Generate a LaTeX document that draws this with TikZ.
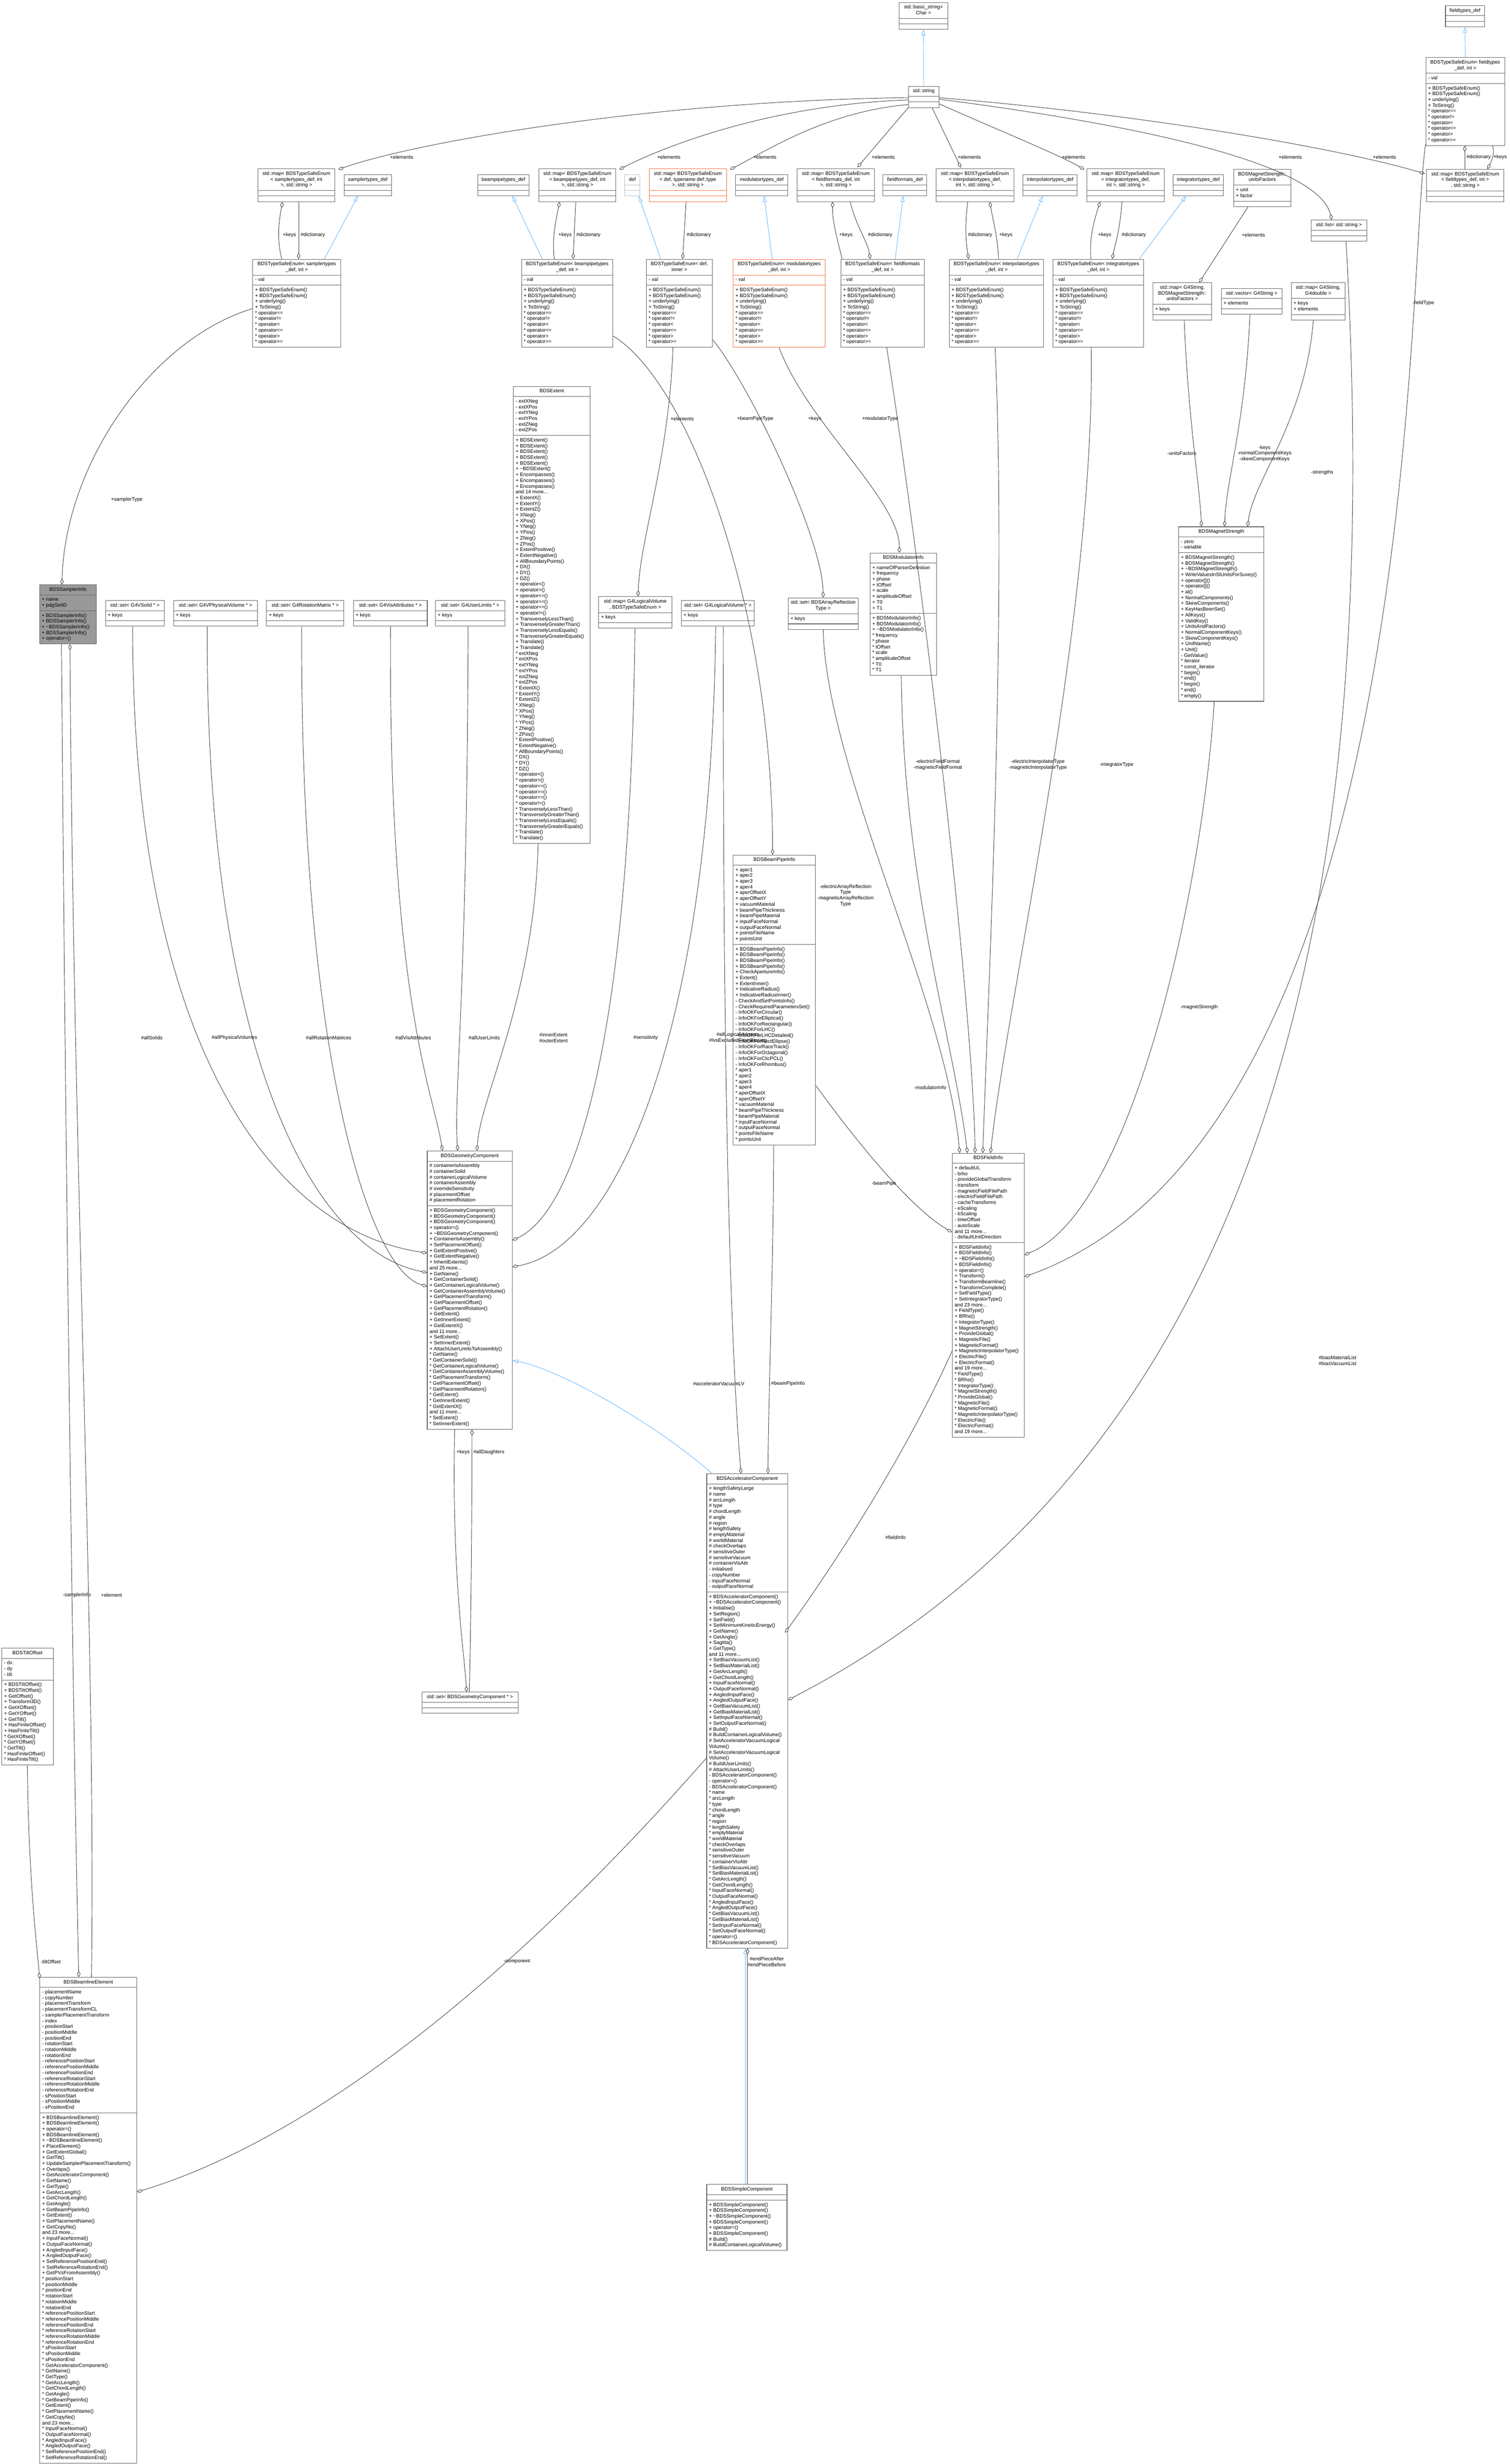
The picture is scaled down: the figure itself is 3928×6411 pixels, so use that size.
\documentclass[tikz,border=0pt]{standalone}
\usepackage{fontspec}
\setmainfont{Liberation Sans}
\usetikzlibrary{shapes.multipart,arrows.meta,calc}
\definecolor{boxline}{HTML}{666666}
\definecolor{edgegray}{HTML}{404040}
\definecolor{inhblue}{HTML}{63B8FF}
\definecolor{hotorange}{HTML}{FF6E46}
\definecolor{undocgray}{HTML}{BFBFBF}
\definecolor{curfill}{HTML}{999999}
\newcommand\hd[1]{\begin{tabular}{@{}c@{}}#1\end{tabular}}
\newcommand\ls[1]{\begin{tabular}{@{}l@{}}#1\end{tabular}}
\newcommand\cls[8][]{\node[cls,minimum width=#5pt,#1] (#2) at (#3,#4) {\hd{#6}\nodepart{two}\ls{#7}\nodepart{three}\ls{#8}};}
\newcommand\enummeth{+ BDSTypeSafeEnum()\\+ BDSTypeSafeEnum()\\+ underlying()\\+ ToString()\\{}* operator==\\{}* operator!=\\{}* operator<\\{}* operator<=\\{}* operator>\\{}* operator>=}
\tikzset{
 cls/.style={rectangle split, rectangle split parts=3, rectangle split part align={center,left,left}, draw=boxline, line width=1.3pt, fill=white, anchor=north west, inner xsep=6pt, inner ysep=5pt, font=\fontsize{13}{15}\selectfont},
 hot/.style={draw=hotorange},
 cur/.style={fill=curfill},
 undoc/.style={draw=undocgray},
 agg/.style={draw=edgegray, line width=1.2pt, -{Diamond[fill=white,length=16pt,width=9pt]}},
 inh/.style={draw=inhblue, line width=1.2pt, -{Triangle[fill=white,length=15pt,width=10pt]}},
 lbl/.style={font=\fontsize{13}{15}\selectfont, inner sep=0pt, align=center},
}
\begin{document}
\begin{tikzpicture}[x=1pt,y=-1pt]
\useasboundingbox (0,0) rectangle (3928,6411);
\fill[white] (0,0) rectangle (3928,6411);
% ---------- top rows
\cls{bstr}{2339}{6}{126}{std::basic\_string<\\Char >}{}{}
\cls{str}{2363}{224}{79}{std::string}{}{}
\cls{ftdef}{3760}{14}{102}{fieldtypes\_def}{}{}
\cls{eft}{3709}{149}{205}{BDSTypeSafeEnum< fieldtypes\\\_def, int >}{- val}{\enummeth}
\cls{msamp}{670}{439}{201}{std::map< BDSTypeSafeEnum\\< samplertypes\_def, int\\>, std::string >}{}{}
\cls{mbp}{1401}{439}{201}{std::map< BDSTypeSafeEnum\\< beampipetypes\_def, int\\>, std::string >}{}{}
\cls[hot]{mdef}{1688}{439}{202}{std::map< BDSTypeSafeEnum\\< def, typename def::type\\>, std::string >}{}{}
\cls{mff}{2073}{439}{202}{std::map< BDSTypeSafeEnum\\< fieldformats\_def, int\\>, std::string >}{}{}
\cls{mip}{2435}{439}{202}{std::map< BDSTypeSafeEnum\\< interpolatortypes\_def,\\int >, std::string >}{}{}
\cls{mit}{2827}{439}{202}{std::map< BDSTypeSafeEnum\\< integratortypes\_def,\\int >, std::string >}{}{}
\cls{mft}{3711}{440}{201}{std::map< BDSTypeSafeEnum\\< fieldtypes\_def, int >\\, std::string >}{}{}
\cls{sdef}{895}{454}{123}{samplertypes\_def}{}{}
\cls{bdef}{1242}{454}{134}{beampipetypes\_def}{}{}
\cls[undoc]{ddef}{1625}{454}{39}{def}{}{}
\cls{mddef}{1913}{454}{136}{modulatortypes\_def}{}{}
\cls{ffdef}{2297}{454}{114}{fieldformats\_def}{}{}
\cls{ipdef}{2661}{454}{141}{interpolatortypes\_def}{}{}
\cls{itdef}{3051}{454}{132}{integratortypes\_def}{}{}
\cls{uf}{3209}{440}{149}{BDSMagnetStrength::\\unitsFactors}{+ unit\\+ factor}{}
\cls{lst}{3410}{572}{146}{std::list< std::string >}{}{}
\cls{esamp}{657}{674}{229}{BDSTypeSafeEnum< samplertypes\\\_def, int >}{- val}{\enummeth}
\cls{ebp}{1356}{674}{238}{BDSTypeSafeEnum< beampipetypes\\\_def, int >}{- val}{\enummeth}
\cls{edef}{1681}{674}{172}{BDSTypeSafeEnum< def,\\inner >}{- val}{\enummeth}
\cls[hot]{emod}{1907}{674}{239}{BDSTypeSafeEnum< modulatortypes\\\_def, int >}{- val}{\enummeth}
\cls{eff}{2187}{674}{217}{BDSTypeSafeEnum< fieldformats\\\_def, int >}{- val}{\enummeth}
\cls{eip}{2469}{674}{246}{BDSTypeSafeEnum< interpolatortypes\\\_def, int >}{- val}{\enummeth}
\cls{eit}{2739}{674}{236}{BDSTypeSafeEnum< integratortypes\\\_def, int >}{- val}{\enummeth}
\cls{mgu}{2999}{735}{153}{std::map< G4String,\\BDSMagnetStrength::\\unitsFactors >}{+ keys}{}
\cls{vg}{3177}{750}{158}{std::vector< G4String >}{+ elements}{}
\cls{mgd}{3359}{735}{140}{std::map< G4String,\\G4double >}{+ keys\\+ elements}{}
% ---------- middle rank
\cls[cur]{samp}{102}{1521}{148}{BDSSamplerInfo}{+ name\\+ pdgSetID}{+ BDSSamplerInfo()\\+ BDSSamplerInfo()\\+ \textasciitilde BDSSamplerInfo()\\+ BDSSamplerInfo()\\+ operator=()}
\cls{sSolid}{274}{1562}{153}{std::set< G4VSolid * >}{+ keys}{}
\cls{sPV}{451}{1562}{218}{std::set< G4VPhysicalVolume * >}{+ keys}{}
\cls{sRot}{693}{1562}{201}{std::set< G4RotationMatrix * >}{+ keys}{}
\cls{sVis}{919}{1562}{192}{std::set< G4VisAttributes * >}{+ keys}{}
\cls{sUL}{1132}{1562}{181}{std::set< G4UserLimits * >}{+ keys}{}
\cls{ext}{1335}{1005}{200}{BDSExtent}{- extXNeg\\- extXPos\\- extYNeg\\- extYPos\\- extZNeg\\- extZPos}{+ BDSExtent()\\+ BDSExtent()\\+ BDSExtent()\\+ BDSExtent()\\+ BDSExtent()\\+ \textasciitilde BDSExtent()\\+ Encompasses()\\+ Encompasses()\\+ Encompasses()\\and 14 more...\\+ ExtentX()\\+ ExtentY()\\+ ExtentZ()\\+ XNeg()\\+ XPos()\\+ YNeg()\\+ YPos()\\+ ZNeg()\\+ ZPos()\\+ ExtentPositive()\\+ ExtentNegative()\\+ AllBoundaryPoints()\\+ DX()\\+ DY()\\+ DZ()\\+ operator<()\\+ operator>()\\+ operator<=()\\+ operator>=()\\+ operator==()\\+ operator!=()\\+ TransverselyLessThan()\\+ TransverselyGreaterThan()\\+ TransverselyLessEquals()\\+ TransverselyGreaterEquals()\\+ Translate()\\+ Translate()\\{}* extXNeg\\{}* extXPos\\{}* extYNeg\\{}* extYPos\\{}* extZNeg\\{}* extZPos\\{}* ExtentX()\\{}* ExtentY()\\{}* ExtentZ()\\{}* XNeg()\\{}* XPos()\\{}* YNeg()\\{}* YPos()\\{}* ZNeg()\\{}* ZPos()\\{}* ExtentPositive()\\{}* ExtentNegative()\\{}* AllBoundaryPoints()\\{}* DX()\\{}* DY()\\{}* DZ()\\{}* operator<()\\{}* operator>()\\{}* operator<=()\\{}* operator>=()\\{}* operator==()\\{}* operator!=()\\{}* TransverselyLessThan()\\{}* TransverselyGreaterThan()\\{}* TransverselyLessEquals()\\{}* TransverselyGreaterEquals()\\{}* Translate()\\{}* Translate()}
\cls{mlv}{1557}{1552}{190}{std::map< G4LogicalVolume\\*, BDSTypeSafeEnum >}{+ keys}{}
\cls{slv}{1772}{1562}{190}{std::set< G4LogicalVolume * >}{+ keys}{}
\cls{sar}{2050}{1555}{182}{std::set< BDSArrayReflection\\Type >}{+ keys}{}
\cls{mod}{2263}{1438}{173}{BDSModulatorInfo}{+ nameOfParserDefinition\\+ frequency\\+ phase\\+ tOffset\\+ scale\\+ amplitudeOffset\\+ T0\\+ T1}{+ BDSModulatorInfo()\\+ BDSModulatorInfo()\\+ \textasciitilde BDSModulatorInfo()\\{}* frequency\\{}* phase\\{}* tOffset\\{}* scale\\{}* amplitudeOffset\\{}* T0\\{}* T1}
\cls{mag}{3066}{1370}{222}{BDSMagnetStrength}{- zero\\- variable}{+ BDSMagnetStrength()\\+ BDSMagnetStrength()\\+ \textasciitilde BDSMagnetStrength()\\+ WriteValuesInSIUnitsForSuvey()\\+ operator[]()\\+ operator[]()\\+ at()\\+ NormalComponents()\\+ SkewComponents()\\+ KeyHasBeenSet()\\+ AllKeys()\\+ ValidKey()\\+ UnitsAndFactors()\\+ NormalComponentKeys()\\+ SkewComponentKeys()\\+ UnitName()\\+ Unit()\\- GetValue()\\{}* iterator\\{}* const\_iterator\\{}* begin()\\{}* end()\\{}* begin()\\{}* end()\\{}* empty()}
% ---------- lower
\cls{bpi}{1907}{2224}{214}{BDSBeamPipeInfo}{+ aper1\\+ aper2\\+ aper3\\+ aper4\\+ aperOffsetX\\+ aperOffsetY\\+ vacuumMaterial\\+ beamPipeThickness\\+ beamPipeMaterial\\+ inputFaceNormal\\+ outputFaceNormal\\+ pointsFileName\\+ pointsUnit}{+ BDSBeamPipeInfo()\\+ BDSBeamPipeInfo()\\+ BDSBeamPipeInfo()\\+ BDSBeamPipeInfo()\\+ CheckApertureInfo()\\+ Extent()\\+ ExtentInner()\\+ IndicativeRadius()\\+ IndicativeRadiusInner()\\- CheckAndSetPointsInfo()\\- CheckRequiredParametersSet()\\- InfoOKForCircular()\\- InfoOKForElliptical()\\- InfoOKForRectangular()\\- InfoOKForLHC()\\- InfoOKForLHCDetailed()\\- InfoOKForRectEllipse()\\- InfoOKForRaceTrack()\\- InfoOKForOctagonal()\\- InfoOKForClicPCL()\\- InfoOKForRhombus()\\{}* aper1\\{}* aper2\\{}* aper3\\{}* aper4\\{}* aperOffsetX\\{}* aperOffsetY\\{}* vacuumMaterial\\{}* beamPipeThickness\\{}* beamPipeMaterial\\{}* inputFaceNormal\\{}* outputFaceNormal\\{}* pointsFileName\\{}* pointsUnit}
\cls{geo}{1111}{2994}{221}{BDSGeometryComponent}{\# containerIsAssembly\\\# containerSolid\\\# containerLogicalVolume\\\# containerAssembly\\\# overrideSensitivity\\\# placementOffset\\\# placementRotation}{+ BDSGeometryComponent()\\+ BDSGeometryComponent()\\+ BDSGeometryComponent()\\+ operator=()\\+ \textasciitilde BDSGeometryComponent()\\+ ContainerIsAssembly()\\+ SetPlacementOffset()\\+ GetExtentPositive()\\+ GetExtentNegative()\\+ InheritExtents()\\and 25 more...\\+ GetName()\\+ GetContainerSolid()\\+ GetContainerLogicalVolume()\\+ GetContainerAssemblyVolume()\\+ GetPlacementTransform()\\+ GetPlacementOffset()\\+ GetPlacementRotation()\\+ GetExtent()\\+ GetInnerExtent()\\+ GetExtentX()\\and 11 more...\\+ SetExtent()\\+ SetInnerExtent()\\+ AttachUserLimitsToAssembly()\\{}* GetName()\\{}* GetContainerSolid()\\{}* GetContainerLogicalVolume()\\{}* GetContainerAssemblyVolume()\\{}* GetPlacementTransform()\\{}* GetPlacementOffset()\\{}* GetPlacementRotation()\\{}* GetExtent()\\{}* GetInnerExtent()\\{}* GetExtentX()\\and 11 more...\\{}* SetExtent()\\{}* SetInnerExtent()}
\cls{fi}{2477}{3000}{187}{BDSFieldInfo}{+ defaultUL\\- brho\\- provideGlobalTransform\\- transform\\- magneticFieldFilePath\\- electricFieldFilePath\\- cacheTransforms\\- eScaling\\- bScaling\\- timeOffset\\- autoScale\\and 11 more...\\- defaultUnitDirection}{+ BDSFieldInfo()\\+ BDSFieldInfo()\\+ \textasciitilde BDSFieldInfo()\\+ BDSFieldInfo()\\+ operator=()\\+ Transform()\\+ TransformBeamline()\\+ TransformComplete()\\+ SetFieldType()\\+ SetIntegratorType()\\and 23 more...\\+ FieldType()\\+ BRho()\\+ IntegratorType()\\+ MagnetStrength()\\+ ProvideGlobal()\\+ MagneticFile()\\+ MagneticFormat()\\+ MagneticInterpolatorType()\\+ ElectricFile()\\+ ElectricFormat()\\and 19 more...\\{}* FieldType()\\{}* BRho()\\{}* IntegratorType()\\{}* MagnetStrength()\\{}* ProvideGlobal()\\{}* MagneticFile()\\{}* MagneticFormat()\\{}* MagneticInterpolatorType()\\{}* ElectricFile()\\{}* ElectricFormat()\\and 19 more...}
\cls{ac}{1838}{3834}{211}{BDSAcceleratorComponent}{+ lengthSafetyLarge\\\# name\\\# arcLength\\\# type\\\# chordLength\\\# angle\\\# region\\\# lengthSafety\\\# emptyMaterial\\\# worldMaterial\\\# checkOverlaps\\\# sensitiveOuter\\\# sensitiveVacuum\\\# containerVisAttr\\- initialised\\- copyNumber\\- inputFaceNormal\\- outputFaceNormal}{+ BDSAcceleratorComponent()\\+ \textasciitilde BDSAcceleratorComponent()\\+ Initialise()\\+ SetRegion()\\+ SetField()\\+ SetMinimumKineticEnergy()\\+ GetName()\\+ GetAngle()\\+ Sagitta()\\+ GetType()\\and 11 more...\\+ SetBiasVacuumList()\\+ SetBiasMaterialList()\\+ GetArcLength()\\+ GetChordLength()\\+ InputFaceNormal()\\+ OutputFaceNormal()\\+ AngledInputFace()\\+ AngledOutputFace()\\+ GetBiasVacuumList()\\+ GetBiasMaterialList()\\+ SetInputFaceNormal()\\+ SetOutputFaceNormal()\\\# Build()\\\# BuildContainerLogicalVolume()\\\# SetAcceleratorVacuumLogical\\Volume()\\\# SetAcceleratorVacuumLogical\\Volume()\\\# BuildUserLimits()\\\# AttachUserLimits()\\- BDSAcceleratorComponent()\\- operator=()\\- BDSAcceleratorComponent()\\{}* name\\{}* arcLength\\{}* type\\{}* chordLength\\{}* angle\\{}* region\\{}* lengthSafety\\{}* emptyMaterial\\{}* worldMaterial\\{}* checkOverlaps\\{}* sensitiveOuter\\{}* sensitiveVacuum\\{}* containerVisAttr\\{}* SetBiasVacuumList()\\{}* SetBiasMaterialList()\\{}* GetArcLength()\\{}* GetChordLength()\\{}* InputFaceNormal()\\{}* OutputFaceNormal()\\{}* AngledInputFace()\\{}* AngledOutputFace()\\{}* GetBiasVacuumList()\\{}* GetBiasMaterialList()\\{}* SetInputFaceNormal()\\{}* SetOutputFaceNormal()\\{}* operator=()\\{}* BDSAcceleratorComponent()}
\cls{sgc}{1097}{4402}{250}{std::set< BDSGeometryComponent * >}{}{}
\cls{tilt}{4}{4288}{134}{BDSTiltOffset}{- dx\\- dy\\- tilt}{+ BDSTiltOffset()\\+ BDSTiltOffset()\\+ GetOffset()\\+ Transform3D()\\+ GetXOffset()\\+ GetYOffset()\\+ GetTilt()\\+ HasFiniteOffset()\\+ HasFiniteTilt()\\{}* GetXOffset()\\{}* GetYOffset()\\{}* GetTilt()\\{}* HasFiniteOffset()\\{}* HasFiniteTilt()}
\cls{be}{103}{5144}{252}{BDSBeamlineElement}{- placementName\\- copyNumber\\- placementTransform\\- placementTransformCL\\- samplerPlacementTransform\\- index\\- positionStart\\- positionMiddle\\- positionEnd\\- rotationStart\\- rotationMiddle\\- rotationEnd\\- referencePositionStart\\- referencePositionMiddle\\- referencePositionEnd\\- referenceRotationStart\\- referenceRotationMiddle\\- referenceRotationEnd\\- sPositionStart\\- sPositionMiddle\\- sPositionEnd}{+ BDSBeamlineElement()\\+ BDSBeamlineElement()\\+ operator=()\\+ BDSBeamlineElement()\\+ \textasciitilde BDSBeamlineElement()\\+ PlaceElement()\\+ GetExtentGlobal()\\+ GetTilt()\\+ UpdateSamplerPlacementTransform()\\+ Overlaps()\\+ GetAcceleratorComponent()\\+ GetName()\\+ GetType()\\+ GetArcLength()\\+ GetChordLength()\\+ GetAngle()\\+ GetBeamPipeInfo()\\+ GetExtent()\\+ GetPlacementName()\\+ GetCopyNo()\\and 23 more...\\+ InputFaceNormal()\\+ OutputFaceNormal()\\+ AngledInputFace()\\+ AngledOutputFace()\\+ SetReferencePositionEnd()\\+ SetReferenceRotationEnd()\\+ GetPVsFromAssembly()\\{}* positionStart\\{}* positionMiddle\\{}* positionEnd\\{}* rotationStart\\{}* rotationMiddle\\{}* rotationEnd\\{}* referencePositionStart\\{}* referencePositionMiddle\\{}* referencePositionEnd\\{}* referenceRotationStart\\{}* referenceRotationMiddle\\{}* referenceRotationEnd\\{}* sPositionStart\\{}* sPositionMiddle\\{}* sPositionEnd\\{}* GetAcceleratorComponent()\\{}* GetName()\\{}* GetType()\\{}* GetArcLength()\\{}* GetChordLength()\\{}* GetAngle()\\{}* GetBeamPipeInfo()\\{}* GetExtent()\\{}* GetPlacementName()\\{}* GetCopyNo()\\and 23 more...\\{}* InputFaceNormal()\\{}* OutputFaceNormal()\\{}* AngledInputFace()\\{}* AngledOutputFace()\\{}* SetReferencePositionEnd()\\{}* SetReferenceRotationEnd()}
\cls{simple}{1838}{5683}{209}{BDSSimpleComponent}{}{+ BDSSimpleComponent()\\+ BDSSimpleComponent()\\+ \textasciitilde BDSSimpleComponent()\\+ BDSSimpleComponent()\\+ operator=()\\+ BDSSimpleComponent()\\\# Build()\\\# BuildContainerLogicalVolume()}
% ================= edges
\draw[inh] (str.north) -- (bstr.south);
\draw[inh] (eft.north) -- (ftdef.south);
% std::string -> maps
\draw[agg] ($(str.west)+(0,2)$) .. controls (1700,262) and (1080,370) .. ($(msamp.north east)+(8,2)$);
\node[lbl] at (1045,409) {+elements};
\draw[agg] ($(str.west)+(0,8)$) .. controls (2000,272) and (1720,385) .. ($(mbp.north east)+(8,2)$);
\node[lbl] at (1740,409) {+elements};
\draw[agg] ($(str.west)+(0,20)$) .. controls (2150,290) and (1990,395) .. ($(mdef.north east)+(8,2)$);
\node[lbl] at (1990,409) {+elements};
\draw[agg] (str.south west) -- ($(mff.north west)+(158,-4)$);
\node[lbl] at (2298,409) {+elements};
\draw[agg] ($(str.south west)+(62,0)$) -- ($(mip.north west)+(65,-3)$);
\node[lbl] at (2522,409) {+elements};
\draw[agg] ($(str.east)+(0,18)$) .. controls (2600,340) and (2750,400) .. ($(mit.north west)+(-6,2)$);
\node[lbl] at (2793,409) {+elements};
\draw[agg] ($(str.east)+(0,6)$) .. controls (3000,330) and (3430,430) .. ($(lst.north west)+(55,0)$);
\node[lbl] at (3357,409) {+elements};
\draw[agg] ($(str.east)+(0,2)$) .. controls (3000,300) and (3500,390) .. ($(mft.north west)+(-4,12)$);
\node[lbl] at (3602,409) {+elements};
% fieldtypes pair
\draw[agg] ($(eft.south west)+(174,0)$) .. controls (3890,400) and (3880,420) .. ($(mft.north west)+(159,0)$);
\node[lbl] at (3903,409) {+keys};
\draw[agg] ($(mft.north west)+(100,0)$) -- ($(eft.south west)+(102,0)$);
\node[lbl] at (3847,409) {\#dictionary};
% enum <-> map pairs
\draw[agg] ($(esamp.north west)+(76,0)$) .. controls (720,620) and (725,580) .. ($(msamp.south west)+(65,0)$);
\node[lbl] at (753,612) {+keys};
\draw[agg] ($(msamp.south west)+(107,0)$) -- ($(esamp.north west)+(120,0)$);
\node[lbl] at (814,612) {\#dictionary};
\draw[agg] ($(ebp.north west)+(86,0)$) .. controls (1436,620) and (1445,580) .. ($(mbp.south west)+(55,0)$);
\node[lbl] at (1470,612) {+keys};
\draw[agg] ($(mbp.south west)+(97,0)$) -- ($(ebp.north west)+(135,0)$);
\node[lbl] at (1531,612) {\#dictionary};
\draw[agg] ($(mdef.south west)+(97,0)$) -- ($(edef.north west)+(95,0)$);
\node[lbl] at (1818,612) {\#dictionary};
\draw[agg] ($(eff.north west)+(4,0)$) .. controls (2178,620) and (2166,580) .. ($(mff.south west)+(93,0)$);
\node[lbl] at (2201,612) {+keys};
\draw[agg] ($(mff.south west)+(139,0)$) .. controls (2228,590) and (2258,630) .. ($(eff.north west)+(77,0)$);
\node[lbl] at (2290,612) {\#dictionary};
\draw[agg] ($(mip.south west)+(83,0)$) .. controls (2508,600) and (2515,640) .. ($(eip.north west)+(51,0)$);
\node[lbl] at (2550,612) {\#dictionary};
\draw[agg] ($(eip.north west)+(129,0)$) .. controls (2596,620) and (2585,580) .. ($(mip.south west)+(140,0)$);
\node[lbl] at (2617,612) {+keys};
\draw[agg] ($(eit.north west)+(99,0)$) .. controls (2834,620) and (2845,580) .. ($(mit.south west)+(35,0)$);
\node[lbl] at (2874,612) {+keys};
\draw[agg] ($(mit.south west)+(92,0)$) .. controls (2914,600) and (2900,640) .. ($(eit.north west)+(155,0)$);
\node[lbl] at (2950,612) {\#dictionary};
% enum inheritance
\draw[inh] ($(esamp.north west)+(187,0)$) -- ($(sdef.south west)+(36,0)$);
\draw[inh] ($(ebp.north west)+(55,0)$) -- ($(bdef.south west)+(91,0)$);
\draw[inh] ($(edef.north west)+(38,0)$) -- ($(ddef.south west)+(37,0)$);
\draw[inh] ($(emod.north west)+(102,0)$) -- ($(mddef.south west)+(75,0)$);
\draw[inh] ($(eff.north west)+(142,0)$) -- ($(ffdef.south west)+(53,0)$);
\draw[inh] ($(eip.north west)+(177,0)$) -- ($(ipdef.south west)+(52,0)$);
\draw[inh] ($(eit.north west)+(225,0)$) -- ($(itdef.south west)+(35,0)$);
% magnet strength
\draw[agg] ($(uf.south west)+(38,0)$) -- ($(mgu.north west)+(121,0)$);
\node[lbl] at (3261,612) {+elements};
\draw[agg] ($(mgu.south west)+(82,0)$) .. controls (3092,1100) and (3120,1250) .. ($(mag.north west)+(60,0)$);
\node[lbl] at (3075,1180) {-unitsFactors};
\draw[agg] ($(vg.south west)+(75,0)$) .. controls (3240,1100) and (3190,1250) .. ($(mag.north west)+(120,0)$);
\node[lbl] at (3290,1180) {-keys\\-normalComponentKeys\\-skewComponentKeys};
\draw[agg] ($(mgd.south west)+(58,0)$) .. controls (3395,1100) and (3260,1250) .. ($(mag.north west)+(180,0)$);
\node[lbl] at (3440,1230) {-strengths};
% field info
\draw[agg] ($(mag.south west)+(93,0)$) .. controls (3130,2300) and (2950,3150) .. ($(fi.north east)+(0,265)$);
\node[lbl] at (3120,2620) {-magnetStrength};
\draw[agg] ($(eft.south west)+(0,-4)$) .. controls (3660,700) and (3700,2950) .. ($(fi.north east)+(0,322)$);
\node[lbl] at (3703,789) {-fieldType};
\draw[agg] ($(eff.south west)+(120,0)$) .. controls (2400,1500) and (2530,2600) .. ($(fi.north west)+(60,0)$);
\node[lbl] at (2440,1990) {-electricFieldFormat\\-magneticFieldFormat};
\draw[agg] ($(eip.south west)+(120,0)$) .. controls (2620,1600) and (2570,2600) .. ($(fi.north west)+(80,0)$);
\node[lbl] at (2700,1990) {-electricInterpolatorType\\-magneticInterpolatorType};
\draw[agg] ($(eit.south west)+(100,0)$) .. controls (2850,1600) and (2620,2600) .. ($(fi.north west)+(100,0)$);
\node[lbl] at (2905,1990) {-integratorType};
\draw[agg] ($(mod.south west)+(82,0)$) .. controls (2350,2300) and (2480,2700) .. ($(fi.north west)+(40,0)$);
\node[lbl] at (2420,2830) {-modulatorInfo};
\draw[agg] (sar.south) .. controls (2150,2000) and (2460,2600) .. ($(fi.north west)+(20,0)$);
\node[lbl] at (2200,2330) {-electricArrayReflection\\Type\\-magneticArrayReflection\\Type};
\draw[agg] ($(bpi.north east)+(0,600)$) .. controls (2250,3000) and (2380,3150) .. ($(fi.north west)+(0,206)$);
\node[lbl] at (2300,3080) {-beamPipe};
% top enums to middle classes
\draw[agg] ($(esamp.north west)+(0,129)$) .. controls (400,880) and (170,1200) .. ($(samp.north west)+(59,0)$);
\node[lbl] at (330,1300) {+samplerType};
\draw[agg] ($(ebp.south east)+(0,-30)$) .. controls (1800,1000) and (2010,1600) .. ($(bpi.north west)+(103,0)$);
\node[lbl] at (1965,1090) {+beamPipeType};
\draw[agg] ($(edef.south west)+(70,0)$) .. controls (1740,1200) and (1665,1400) .. ($(mlv.north west)+(103,0)$);
\node[lbl] at (1775,1090) {+elements};
\draw[agg] ($(edef.south east)+(0,-20)$) .. controls (1950,1000) and (2140,1400) .. (sar.north);
\node[lbl] at (2120,1090) {+keys};
\draw[agg] ($(emod.south west)+(120,0)$) .. controls (2100,1100) and (2340,1300) .. ($(mod.north west)+(77,0)$);
\node[lbl] at (2290,1090) {+modulatorType};
% geometry component
\draw[agg] ($(sSolid.south west)+(71,0)$) .. controls (345,2700) and (700,3200) .. ($(geo.north west)+(0,266)$);
\node[lbl] at (395,2700) {\#allSolids};
\draw[agg] ($(sPV.south west)+(88,0)$) .. controls (535,2700) and (800,3250) .. ($(geo.north west)+(0,317)$);
\node[lbl] at (610,2700) {\#allPhysicalVolumes};
\draw[agg] ($(sRot.south west)+(92,0)$) .. controls (780,2700) and (950,3300) .. ($(geo.north west)+(0,353)$);
\node[lbl] at (855,2700) {\#allRotationMatrices};
\draw[agg] ($(sVis.south west)+(97,0)$) .. controls (1010,2600) and (1130,2850) .. ($(geo.north west)+(40,0)$);
\node[lbl] at (1075,2700) {\#allVisAttributes};
\draw[agg] ($(sUL.south west)+(86,0)$) .. controls (1215,2600) and (1180,2850) .. ($(geo.north west)+(80,0)$);
\node[lbl] at (1260,2700) {\#allUserLimits};
\draw[agg] ($(ext.south west)+(65,0)$) .. controls (1390,2600) and (1250,2850) .. ($(geo.north west)+(130,0)$);
\node[lbl] at (1440,2700) {\#innerExtent\\\#outerExtent};
\draw[agg] ($(mlv.south west)+(95,0)$) .. controls (1640,2700) and (1500,3150) .. ($(geo.north east)+(0,233)$);
\node[lbl] at (1680,2700) {\#sensitivity};
\draw[agg] ($(slv.south west)+(90,0)$) .. controls (1850,2700) and (1600,3250) .. ($(geo.north east)+(0,302)$);
\node[lbl] at (1920,2700) {\#allLogicalVolumes\\\#lvsExcludedFromBiasing};
\draw[agg] ($(geo.south west)+(72,0)$) .. controls (1175,4100) and (1208,4300) .. ($(sgc.north west)+(117,0)$);
\node[lbl] at (1205,3778) {+keys};
\draw[agg] ($(sgc.north west)+(124,0)$) .. controls (1226,4200) and (1228,3900) .. ($(geo.south west)+(117,0)$);
\node[lbl] at (1272,3778) {\#allDaughters};
% accelerator component
\draw[inh] ($(ac.north west)+(15,0)$) .. controls (1700,3700) and (1450,3560) .. ($(geo.north east)+(0,546)$);
\draw[agg] ($(bpi.south west)+(106,0)$) .. controls (2012,3300) and (2000,3600) .. ($(ac.north west)+(160,0)$);
\node[lbl] at (2050,3600) {\#beamPipeInfo};
\draw[agg] ($(slv.south west)+(110,0)$) .. controls (1880,2800) and (1900,3500) .. ($(ac.north west)+(90,0)$);
\node[lbl] at (1870,3600) {\#acceleratorVacuumLV};
\draw[agg] ($(fi.north west)+(0,515)$) .. controls (2350,3800) and (2150,4100) .. ($(ac.north east)+(-8,414)$);
\node[lbl] at (2330,4000) {\#fieldInfo};
\draw[agg] ($(lst.south west)+(92,0)$) .. controls (3580,2000) and (3450,3700) .. ($(ac.north east)+(0,589)$);
\node[lbl] at (3480,3540) {\#biasMaterialList\\\#biasVacuumList};
\draw[inh] ($(simple.north west)+(101,0)$) -- ($(ac.south west)+(101,0)$);
\draw[agg] ($(simple.north west)+(107,0)$) -- ($(ac.south west)+(107,0)$);
\node[lbl] at (1995,5104) {\#endPieceAfter\\\#endPieceBefore};
% beamline element
\draw[agg] ($(ac.north west)+(0,740)$) .. controls (1200,5300) and (700,5600) .. ($(be.north east)+(0,559)$);
\node[lbl] at (1345,5104) {-component};
\draw[agg] ($(tilt.south west)+(67,0)$) .. controls (75,4900) and (95,5050) .. ($(be.north west)+(0,4)$);
\node[lbl] at (132,5104) {-tiltOffset};
\draw[agg] ($(samp.south west)+(58,0)$) .. controls (170,3000) and (190,4500) .. ($(be.north west)+(102,0)$);
\node[lbl] at (200,4150) {-samplerInfo};
\draw[agg] ($(be.north west)+(135,0)$) .. controls (250,4300) and (190,3000) .. ($(samp.south west)+(80,0)$);
\node[lbl] at (290,4150) {+element};
\end{tikzpicture}
\end{document}
